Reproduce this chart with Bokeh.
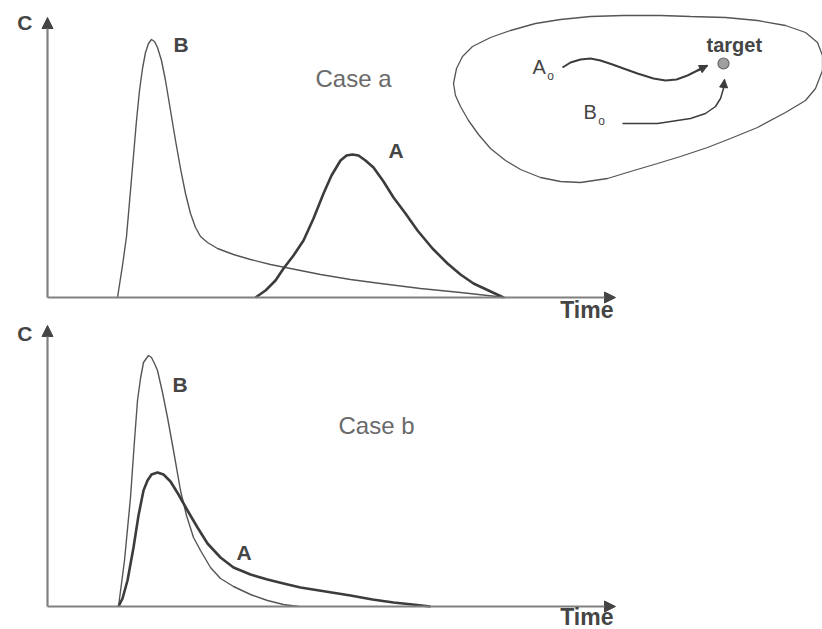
from bokeh.plotting import figure
from bokeh.layouts import column
from bokeh.models import Label, Arrow, NormalHead, Range1d
from bokeh.embed import file_html
from bokeh.resources import INLINE

# ---------------- data (time, concentration; arbitrary units) ----------------
# Case a
a_B_t = [7.0, 7.5, 7.9, 8.3, 8.6, 8.9, 9.2, 9.5, 9.8, 10.1, 10.4, 10.7, 11.0, 11.4, 11.8,
         12.3, 12.8, 13.3, 13.8, 14.3, 14.8, 15.3, 16.0, 17.0, 18.6, 20.3, 22.3, 24.3,
         27.3, 30.3, 33.3, 37.3, 41.3, 45.8]
a_B_c = [0.0, 3.2, 6.1, 10.7, 14.2, 17.7, 20.7, 22.9, 24.5, 25.4, 25.8, 25.6, 25.0, 23.7, 21.7,
         18.7, 15.7, 12.9, 10.4, 8.4, 7.0, 6.1, 5.5, 4.9, 4.3, 3.8, 3.3, 2.9,
         2.3, 1.8, 1.4, 0.9, 0.5, 0.0]
a_A_t = [20.8, 21.8, 22.8, 23.6, 24.6, 25.6, 26.6, 27.6, 28.4, 29.3, 29.9, 30.5, 31.1, 31.8,
         32.6, 33.6, 34.6, 35.8, 37.0, 38.5, 40.0, 41.3, 42.6, 44.1, 45.6]
a_A_c = [0.0, 0.7, 1.7, 2.9, 4.2, 5.7, 7.9, 10.4, 12.2, 13.7, 14.2, 14.3, 14.2, 13.7,
         13.0, 11.6, 10.0, 8.4, 6.7, 4.9, 3.4, 2.3, 1.4, 0.7, 0.0]

# Case b
b_B_t = [7.1, 7.7, 8.3, 8.7, 9.0, 9.3, 9.6, 10.1, 10.4, 10.7, 11.0, 11.5, 12.0, 12.6, 13.3,
         13.9, 14.6, 15.3, 16.3, 17.3, 18.6, 20.3, 22.0, 23.6, 25.1]
b_B_c = [0.0, 4.6, 10.9, 16.6, 20.6, 22.8, 24.4, 25.1, 24.9, 24.3, 23.6, 21.4, 18.9, 15.6, 11.6,
         9.1, 6.9, 5.6, 3.9, 2.8, 2.0, 1.2, 0.6, 0.2, 0.0]
b_A_t = [7.1, 7.5, 8.0, 8.6, 9.1, 9.6, 10.0, 10.4, 11.0, 11.6, 12.3, 13.1, 14.0, 15.0, 16.0,
         17.3, 18.6, 20.3, 22.0, 23.6, 25.3, 27.8, 30.3, 32.5, 34.6, 36.5, 38.3]
b_A_c = [0.0, 0.8, 2.6, 5.9, 9.1, 11.6, 12.6, 13.2, 13.4, 13.2, 12.5, 11.2, 9.6, 7.9, 6.3,
         4.9, 3.9, 3.2, 2.7, 2.3, 1.9, 1.5, 1.1, 0.7, 0.4, 0.2, 0.0]

# inset sketch (domain with paths to the target)
blob_t = [40.6, 40.9, 41.5, 42.5, 44.3, 46.3, 48.8, 51.3, 54.3, 57.6, 61.3, 64.3, 67.8, 71.0,
          73.8, 75.8, 77.0, 77.5, 77.5, 76.8, 75.8, 73.8, 71.0, 68.3, 66.0, 63.3, 61.0, 58.3,
          56.0, 53.3, 51.3, 49.3, 47.3, 45.8, 44.3, 43.1, 42.1, 41.3, 40.8]
blob_c = [21.4, 22.9, 24.1, 25.1, 26.0, 26.7, 27.4, 27.8, 28.1, 28.2, 28.2, 28.1, 28.0, 27.7,
          27.2, 26.5, 25.5, 24.2, 22.7, 20.9, 19.7, 18.5, 17.0, 15.9, 15.0, 14.1, 13.4, 12.6,
          11.9, 11.5, 11.6, 12.0, 12.8, 13.7, 14.9, 16.3, 17.7, 19.1, 20.2]
pathA_t = [51.5, 52.3, 53.3, 54.3, 55.3, 56.5, 57.6, 59.0, 60.6, 61.8, 62.9, 64.0, 65.0, 66.0]
pathA_c = [23.0, 23.5, 23.8, 23.9, 23.7, 23.3, 22.9, 22.4, 21.9, 21.7, 21.8, 22.2, 22.7, 23.2]
pathB_t = [57.5, 61.0, 64.3, 65.8, 66.8, 67.3, 67.6, 67.7]
pathB_c = [17.4, 17.4, 17.9, 18.4, 19.1, 19.9, 20.9, 21.8]
target_t = [67.6]
target_c = [23.4]

x_axis_end = 56.8
y_axis_end_a = 28.0
y_axis_end_b = 28.1

FONT = "Liberation Sans"
DARK = "#454545"
AXIS = "#808080"


def base_fig(height, y0, y1):
    p = figure(width=822, height=height, output_backend="svg", toolbar_location=None,
               x_range=Range1d(-4.7, 77.5), y_range=Range1d(y0, y1),
               x_axis_location=None, y_axis_location=None, min_border=0,
               background_fill_color="white", border_fill_color="white")
    p.grid.visible = False
    p.outline_line_color = None
    return p


def lab(p, x, y, t, size="21px", bold=True, color=DARK, align="left"):
    p.add_layout(Label(x=x, y=y, text=t, text_align=align, text_baseline="middle",
                       text_font=FONT, text_font_style="bold" if bold else "normal",
                       text_font_size=size, text_color=color))


def axes(p, yend, c_mid, t_mid):
    p.add_layout(Arrow(end=NormalHead(size=11, fill_color=DARK, line_color=DARK),
                       x_start=0, y_start=0, x_end=x_axis_end, y_end=0,
                       line_color=AXIS, line_width=2.2))
    p.add_layout(Arrow(end=NormalHead(size=11, fill_color=DARK, line_color=DARK),
                       x_start=0, y_start=0, x_end=0, y_end=yend,
                       line_color=AXIS, line_width=2.2))
    lab(p, -1.5, c_mid, "C", size="21px", align="right")
    lab(p, 56.6, t_mid, "Time", size="23px", align="right")


# ---------------- top: case a ----------------
p1 = base_fig(322, -2.5, 29.7)
axes(p1, y_axis_end_a, 27.5, -1.25)
p1.line(a_B_t, a_B_c, line_color="#555555", line_width=1.4, line_join="round")
p1.line(a_A_t, a_A_c, line_color="#3c3c3c", line_width=2.6, line_join="round")
lab(p1, 12.6, 25.35, "B")
lab(p1, 34.1, 14.7, "A")
lab(p1, 26.8, 21.95, "Case a", size="24px", bold=False, color="#6a6a6a")

# inset
p1.patch(blob_t, blob_c, fill_color=None, line_color="#555555", line_width=1.3)
p1.line(pathA_t, pathA_c, line_color="#3c3c3c", line_width=2.0, line_join="round")
p1.add_layout(Arrow(end=NormalHead(size=8, fill_color="#3c3c3c", line_color="#3c3c3c"),
                    x_start=pathA_t[-2], y_start=pathA_c[-2],
                    x_end=pathA_t[-1], y_end=pathA_c[-1],
                    line_color="#3c3c3c", line_width=2.0))
p1.line(pathB_t, pathB_c, line_color="#3c3c3c", line_width=1.5, line_join="round")
p1.add_layout(Arrow(end=NormalHead(size=8, fill_color="#3c3c3c", line_color="#3c3c3c"),
                    x_start=pathB_t[-2], y_start=pathB_c[-2],
                    x_end=pathB_t[-1], y_end=pathB_c[-1],
                    line_color="#3c3c3c", line_width=1.5))
p1.scatter(target_t, target_c, size=11, fill_color="#a0a0a0", line_color="#666666",
           line_width=1.2)
lab(p1, 65.9, 25.3, "target", size="20px")
lab(p1, 48.5, 23.05, "A", size="20px", bold=False)
lab(p1, 50.3, 22.2, "o", size="12px", bold=False, align="center")
lab(p1, 53.6, 18.55, "B", size="20px", bold=False)
lab(p1, 55.4, 17.7, "o", size="12px", bold=False, align="center")

# ---------------- bottom: case b ----------------
p2 = base_fig(307, -2.3, 28.4)
axes(p2, y_axis_end_b, 27.3, -1.0)
p2.line(b_B_t, b_B_c, line_color="#555555", line_width=1.4, line_join="round")
p2.line(b_A_t, b_A_c, line_color="#3c3c3c", line_width=2.6, line_join="round")
lab(p2, 12.5, 22.2, "B")
lab(p2, 18.9, 5.45, "A")
lab(p2, 29.1, 18.15, "Case b", size="24px", bold=False, color="#6a6a6a")

layout = column(p1, p2, spacing=0)
open("out.html", "w").write(file_html(layout, INLINE))
